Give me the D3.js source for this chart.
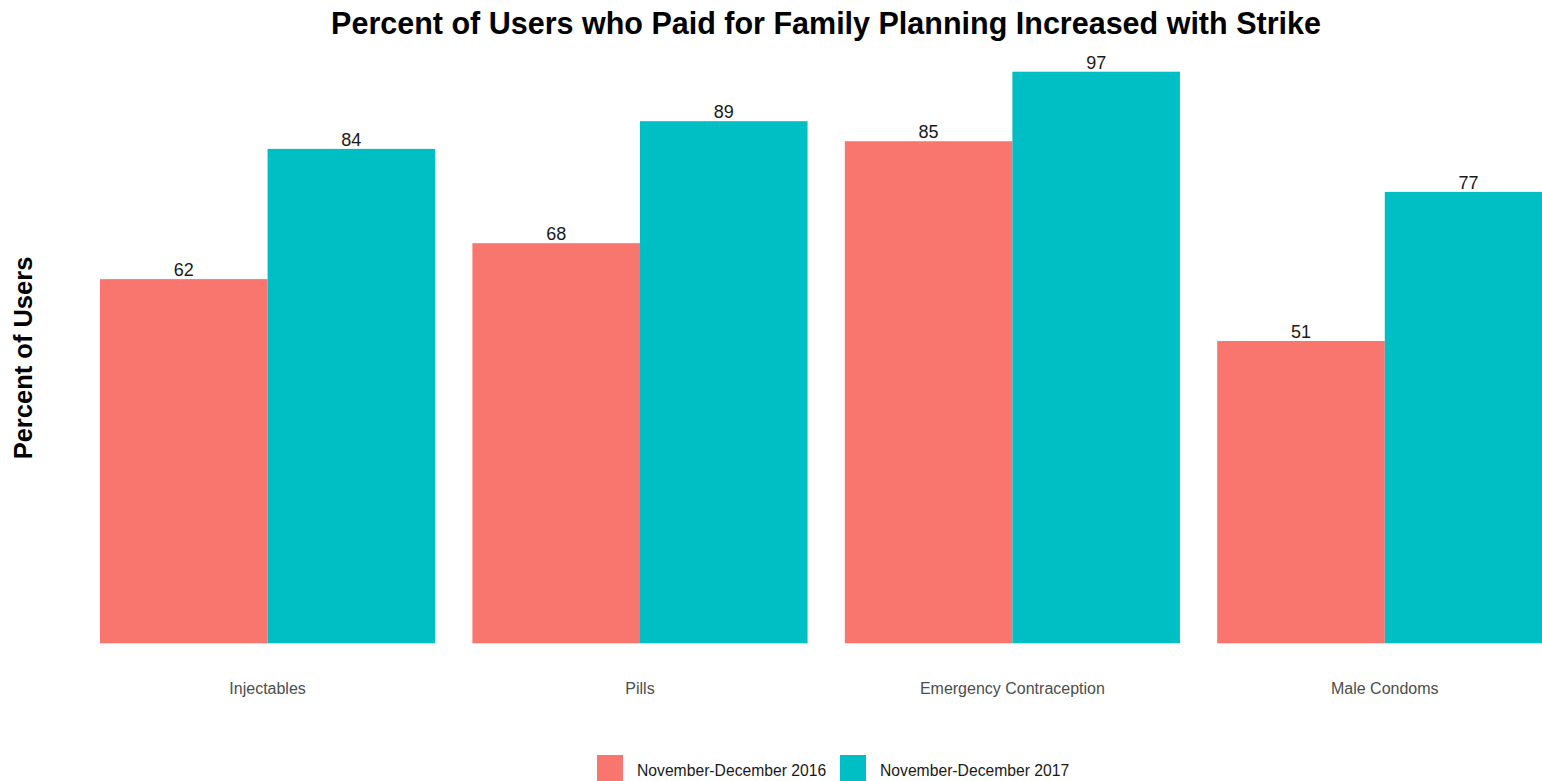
<!DOCTYPE html>
<html>
<head>
<meta charset="utf-8">
<script src="https://cdn.jsdelivr.net/npm/d3@7"></script>
<style>
  body { margin: 0; background: #fff; }
  svg { display: block; font-family: "Liberation Sans", Arial, sans-serif; }
</style>
</head>
<body>
<svg></svg>
<script>
const svgWidth = 1542;
const svgHeight = 781;

// Data (bar heights; labels are the rounded values)
const categories = ["Injectables", "Pills", "Emergency Contraception", "Male Condoms"];
const periods = ["November-December 2016", "November-December 2017"];
const values2016 = [61.8, 67.9, 85.2, 51.3];
const values2017 = [83.9, 88.6, 97.0, 76.6];
const colors = ["#F8766D", "#00BFC4"];

const data = [];
categories.forEach((c, i) => {
    data.push({ category: c, period: periods[0], value: values2016[i] });
    data.push({ category: c, period: periods[1], value: values2017[i] });
});

const svg = d3.select("svg")
    .attr("width", svgWidth)
    .attr("height", svgHeight);

// Scales
const step = 372.4;
const xScale = d3.scaleBand()
    .domain(categories)
    .range([100 - 0.05 * step, 100 - 0.05 * step + 4 * step])
    .paddingInner(0.1)
    .paddingOuter(0.05);

const xSub = d3.scaleBand()
    .domain(periods)
    .range([0, xScale.bandwidth()]);

const yScale = d3.scaleLinear()
    .domain([0, 97])
    .range([643.3, 71.7]);

const color = d3.scaleOrdinal().domain(periods).range(colors);

// Bars
svg.selectAll(".bar")
    .data(data)
    .enter()
    .append("rect")
    .attr("class", "bar")
    .attr("x", d => xScale(d.category) + xSub(d.period))
    .attr("y", d => yScale(d.value))
    .attr("width", xSub.bandwidth())
    .attr("height", d => yScale(0) - yScale(d.value))
    .attr("fill", d => color(d.period));

// Value labels
svg.selectAll(".label")
    .data(data)
    .enter()
    .append("text")
    .attr("class", "label")
    .attr("x", d => xScale(d.category) + xSub(d.period) + xSub.bandwidth() / 2)
    .attr("y", d => yScale(d.value) - 3)
    .attr("text-anchor", "middle")
    .style("font-size", "18px")
    .style("fill", "#1a1a1a")
    .text(d => Math.round(d.value));

// x-axis (labels only)
const xAxis = svg.append("g")
    .attr("transform", "translate(0,643.3)")
    .call(d3.axisBottom(xScale).tickSize(0).tickPadding(39));
xAxis.select(".domain").remove();
xAxis.selectAll("text")
    .style("font-size", "16px")
    .style("fill", "#4d4d4d")
    .style("font-family", "'Liberation Sans', Arial, sans-serif");

// Title
svg.append("text")
    .attr("x", 826)
    .attr("y", 34)
    .attr("text-anchor", "middle")
    .style("font-size", "30.5px")
    .style("font-weight", "bold")
    .text("Percent of Users who Paid for Family Planning Increased with Strike");

// y-axis label
svg.append("text")
    .attr("transform", "rotate(-90)")
    .attr("x", -358)
    .attr("y", 32)
    .attr("text-anchor", "middle")
    .style("font-size", "25.5px")
    .style("font-weight", "bold")
    .text("Percent of Users");

// Legend
const legend = svg.append("g").attr("transform", "translate(597,755)");
const legendX = [0, 243];
periods.forEach((p, i) => {
    const g = legend.append("g").attr("transform", `translate(${legendX[i]},0)`);
    g.append("rect")
        .attr("width", 26)
        .attr("height", 26)
        .attr("fill", color(p));
    g.append("text")
        .attr("x", 40)
        .attr("y", 21)
        .style("font-size", "15.7px")
        .style("fill", "#1a1a1a")
        .text(p);
});
</script>
</body>
</html>
